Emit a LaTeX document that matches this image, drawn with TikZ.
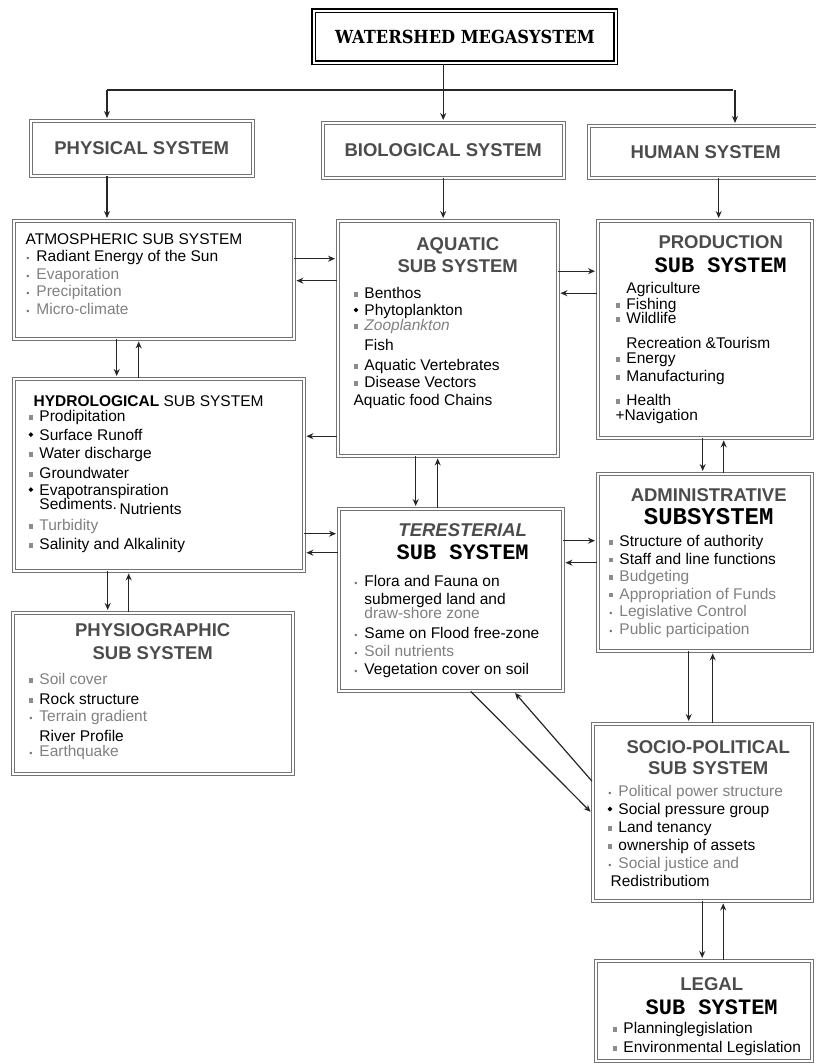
\documentclass[tikz,border=0pt]{standalone}
\usepackage{fontspec}
\setsansfont{Liberation Sans}
\setmonofont{Liberation Mono}
\newfontfamily\megafont[FakeStretch=0.9]{DejaVu Serif}
\usepackage{xcolor}
\usepackage{graphicx}
\usepackage{tikz}
\usetikzlibrary{positioning, arrows.meta, arrows}

\newcommand{\bsq}{\textcolor{black!45}{\rule[0.12em]{0.3em}{0.3em}}\hspace{0.4em}}
\newcommand{\bdot}{\textcolor{black!55}{\makebox[0.3em]{\fontsize{9}{9}\selectfont\textbullet}}\hspace{0.4em}}
\newcommand{\bdia}{\makebox[0.3em]{\raisebox{0.22em}{\rotatebox{45}{\rule{0.22em}{0.22em}}}}\hspace{0.4em}}
\newcommand{\bnone}{\hspace*{0.7em}}
\newcommand{\greytxt}[1]{\textcolor{black!50}{#1}}
\newcommand{\subsys}{\color{black}\ttfamily\bfseries\fontsize{22}{23}\selectfont}

\begin{document}
\begin{tikzpicture}[x=1pt,y=-1pt,->,>={Stealth[length=7pt,width=6pt]},shorten >=2pt,line width=1.2pt,draw=black!85,
    box/.style={draw=black!55,double=white,double distance=1.6pt,line width=1.4pt,anchor=north west,inner sep=0pt},
    megabox/.style={box,draw=black,line width=1.8pt,double distance=1.4pt,font=\megafont\bfseries\fontsize{18}{20}\selectfont},
    sysbox/.style={box,font=\sffamily\bfseries\fontsize{18.5}{22}\selectfont,text=black!70},
    hd/.style={anchor=north,inner sep=0pt,align=center,text=black!70,font=\sffamily\bfseries\fontsize{18.5}{23}\selectfont},
    items/.style={anchor=north west,inner sep=0pt,align=left,font=\sffamily\fontsize{15.5}{17.5}\selectfont}]
    \useasboundingbox (0,0) rectangle (815,1063);

    % top levels
    \node[megabox,minimum width=302pt,minimum height=52pt] (mega) at (313,10) {WATERSHED MEGASYSTEM};
    \node[sysbox,minimum width=222pt,minimum height=55pt] (phys) at (30,120) {PHYSICAL SYSTEM};
    \node[sysbox,minimum width=241pt,minimum height=55pt] (bio) at (322,122) {BIOLOGICAL SYSTEM};
    \node[sysbox,minimum width=234pt,minimum height=52pt] (human) at (588,125) {HUMAN SYSTEM};

    % sub systems
    \node[box,minimum width=280pt,minimum height=118pt] (atmo) at (13,220) {};
    \node[items] (atmoT) at ([xshift=12pt,yshift=-13pt]atmo.north west)
        {ATMOSPHERIC SUB SYSTEM\\ \bdot Radiant Energy of the Sun\\ \bdot\greytxt{Evaporation}\\
         \bdot\greytxt{Precipitation}\\ \bdot\greytxt{Micro-climate}};

    \node[box,minimum width=220pt,minimum height=235pt] (aqua) at (337,220) {};
    \node[hd] (aquaH) at ([xshift=10pt,yshift=-17pt]aqua.north) {AQUATIC\\[-1pt]SUB SYSTEM};
    \node[items] (aquaT) at ([xshift=16pt,yshift=-67pt]aqua.north west)
        {\bsq Benthos\\[-0.5pt] \bdia Phytoplankton\\[-2.5pt] \bsq\greytxt{\textit{Zooplankton}}\\[2.5pt]
         \bnone Fish\\[2.5pt] \bsq Aquatic Vertebrates\\[-0.5pt] \bsq Disease Vectors\\ Aquatic food Chains};

    \node[box,minimum width=214pt,minimum height=217pt] (prod) at (597,220) {};
    \node[hd] (prodH) at ([xshift=16pt,yshift=-15pt]prod.north) {PRODUCTION\\[1pt]{\subsys SUB SYSTEM}};
    \node[items,font=\sffamily\fontsize{15.5}{16}\selectfont] (prodT) at ([xshift=18pt,yshift=-62pt]prod.north west)
        {\bnone Agriculture\\ \bsq Fishing\\[-2pt] \bsq Wildlife\\[9pt] \bnone Recreation \&Tourism\\[-1pt]
         \bsq Energy\\[2pt] \bsq Manufacturing\\[8pt] \bsq Health\\[-1pt] +Navigation};

    \node[box,minimum width=290pt,minimum height=192pt] (hydro) at (13,378) {};
    \node[items,font=\sffamily\fontsize{15.5}{18}\selectfont] (hydroT) at ([xshift=15pt,yshift=-17pt]hydro.north west)
        {\hspace*{5pt}\textbf{HYDROLOGICAL} SUB SYSTEM\\[-3pt] \bsq Prodipitation\\[1pt] \bdia Surface Runoff\\
         \bsq Water discharge\\[2pt] \bsq Groundwater\\[-1pt] \bdia Evapotranspiration\\[-4pt]
         \bnone Sediments.\,\raisebox{-5pt}{Nutrients}\\[3pt] \bsq\greytxt{Turbidity}\\[1pt] \bsq Salinity and Alkalinity};

    \node[box,minimum width=224pt,minimum height=182pt] (terr) at (338,508) {};
    \node[hd,font=\sffamily\bfseries\itshape\fontsize{18.5}{23}\selectfont] (terrH) at ([xshift=12pt,yshift=-15pt]terr.north)
        {TERESTERIAL\\{\subsys\upshape SUB SYSTEM}};
    \node[items,font=\sffamily\fontsize{15.5}{18}\selectfont] (terrT) at ([xshift=15pt,yshift=-67pt]terr.north west)
        {\bdot Flora and Fauna on\\ \bnone submerged land and\\[-4pt] \bnone\greytxt{draw-shore zone}\\[2pt]
         \bdot Same on Flood free-zone\\ \bdot\greytxt{Soil nutrients}\\ \bdot Vegetation cover on soil};

    \node[box,minimum width=214pt,minimum height=177pt] (admin) at (597,473) {};
    \node[hd] (adminH) at ([xshift=4pt,yshift=-15pt]admin.north) {ADMINISTRATIVE\\{\subsys\fontsize{24}{24}\selectfont SUBSYSTEM}};
    \node[items] (adminT) at ([xshift=11pt,yshift=-62pt]admin.north west)
        {\bsq Structure of authority\\ \bsq Staff and line functions\\ \bsq\greytxt{Budgeting}\\
         \bsq\greytxt{Appropriation of Funds}\\ \bdot\greytxt{Legislative Control}\\ \bdot\greytxt{Public participation}};

    \node[box,minimum width=280pt,minimum height=161pt] (physio) at (12,612) {};
    \node[hd] (physioH) at ([yshift=-11pt]physio.north) {PHYSIOGRAPHIC\\SUB SYSTEM};
    \node[items,font=\sffamily\fontsize{15.5}{18}\selectfont] (physioT) at ([xshift=16pt,yshift=-61pt]physio.north west)
        {\bsq\greytxt{Soil cover}\\[2pt] \bsq Rock structure\\[-1pt] \bdot\greytxt{Terrain gradient}\\[2pt]
         \bnone River Profile\\[-3pt] \bdot\greytxt{Earthquake}};

    \node[box,minimum width=219pt,minimum height=177pt] (socio) at (592,723) {};
    \node[hd] (socioH) at ([xshift=6pt,yshift=-17pt]socio.north) {SOCIO-POLITICAL\\[-2pt]SUB SYSTEM};
    \node[items,font=\sffamily\fontsize{15.5}{18}\selectfont] (socioT) at ([xshift=15pt,yshift=-62pt]socio.north west)
        {\bdot\greytxt{Political power structure}\\ \bdia Social pressure group\\ \bsq Land tenancy\\
         \bsq ownership of assets\\ \bdot\greytxt{Social justice and}\\ \hspace*{3pt}Redistributiom};

    \node[box,minimum width=216pt,minimum height=100pt] (legal) at (595,960) {};
    \node[hd] (legalH) at ([xshift=8pt,yshift=-17pt]legal.north) {LEGAL\\[1pt]{\subsys SUB SYSTEM}};
    \node[items,font=\sffamily\fontsize{15.5}{19}\selectfont] (legalT) at ([xshift=17pt,yshift=-62pt]legal.north west)
        {\bsq Planninglegislation\\ \bsq Environmental Legislation};

    % connectors
    \coordinate (busL) at (107,90);
    \coordinate (busR) at (735,90);
    \draw[-] (busL) -- (busR);
    \path (busL) edge (busL |- phys.north)
          (busR) edge (busR |- human.north)
          (bio.north |- mega.south) edge (bio.north)
          (busL |- phys.south) edge (busL |- atmo.north)
          (bio.south) edge (bio.south |- aqua.north)
          ([xshift=13pt]human.south) edge ([xshift=13pt]human.south |- prod.north);

    \path ([yshift=21pt]atmo.east) edge ([yshift=21pt]atmo.east -| aqua.west)
          ([yshift=-1pt]atmo.east -| aqua.west) edge ([yshift=-1pt]atmo.east)
          ([yshift=58pt]prod.west -| aqua.east) edge ([yshift=58pt]prod.west)
          ([yshift=36pt]prod.west) edge ([yshift=36pt]prod.west -| aqua.east)
          ([xshift=-37pt]atmo.south) edge ([xshift=-37pt]atmo.south |- hydro.north)
          ([xshift=-15pt]atmo.south |- hydro.north) edge ([xshift=-15pt]atmo.south)
          ([yshift=-98pt]aqua.west) edge ([yshift=-98pt]aqua.west -| hydro.east)
          ([xshift=-32pt]aqua.south) edge ([xshift=-32pt]aqua.south |- terr.north)
          ([xshift=-10pt]aqua.south |- terr.north) edge ([xshift=-10pt]aqua.south)
          ([xshift=-2pt]prod.south) edge ([xshift=-2pt]prod.south |- admin.north)
          ([xshift=19pt]prod.south |- admin.north) edge ([xshift=19pt]prod.south);

    \path ([yshift=66pt]terr.west -| hydro.east) edge ([yshift=66pt]terr.west)
          ([yshift=47pt]terr.west) edge ([yshift=47pt]terr.west -| hydro.east)
          ([yshift=59pt]terr.east) edge ([yshift=59pt]terr.east -| admin.west)
          ([yshift=37pt]terr.east -| admin.west) edge ([yshift=37pt]terr.east)
          ([xshift=-51pt]hydro.south) edge ([xshift=-51pt]hydro.south |- physio.north)
          ([xshift=-30pt]hydro.south |- physio.north) edge ([xshift=-30pt]hydro.south)
          ([xshift=-16pt]admin.south) edge ([xshift=-16pt]admin.south |- socio.north)
          ([xshift=8pt]admin.south |- socio.north) edge ([xshift=8pt]admin.south)
          (socio.south) edge (socio.south |- legal.north)
          ([xshift=21pt]socio.south |- legal.north) edge ([xshift=21pt]socio.south)
          ([xshift=20pt]terr.south) edge ([yshift=-1pt]socio.west)
          ([yshift=31pt]socio.west) edge ([xshift=63pt]terr.south);
\end{tikzpicture}
\end{document}
